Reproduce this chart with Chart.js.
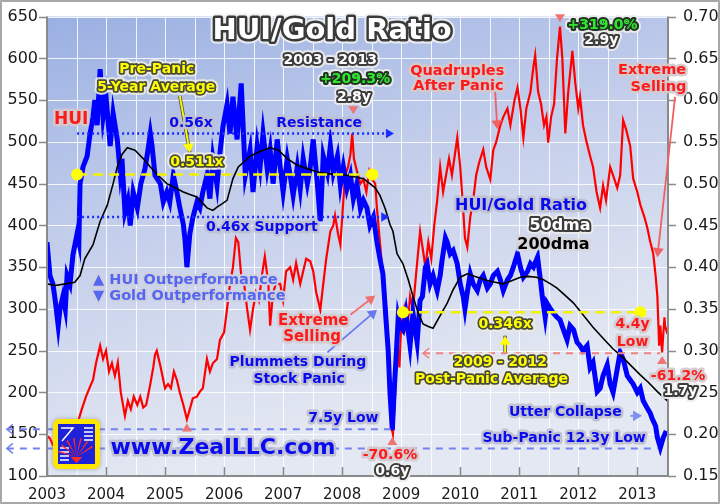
<!DOCTYPE html>
<html>
<head>
<meta charset="utf-8">
<script src="https://cdn.jsdelivr.net/npm/chart.js@4.4.0/dist/chart.umd.min.js"></script>
<style>
html, body { margin: 0; padding: 0; background: #fff; }
canvas { display: block; }
</style>
</head>
<body>
<canvas id="grafico-hui-ouro" width="720" height="504"></canvas>
<script>
// Índice HUI (eixo esquerdo)
const anosHUI = [
  2003.00, 2003.05, 2003.10, 2003.19, 2003.27, 2003.36, 2003.44, 2003.53, 2003.59, 2003.66,
  2003.73, 2003.78, 2003.83, 2003.90, 2003.95, 2004.00, 2004.05, 2004.10, 2004.15, 2004.20,
  2004.25, 2004.32, 2004.37, 2004.42, 2004.47, 2004.53, 2004.58, 2004.63, 2004.68, 2004.75,
  2004.80, 2004.83, 2004.86, 2004.92, 2004.97, 2005.00, 2005.05, 2005.10, 2005.15, 2005.20,
  2005.25, 2005.31, 2005.37, 2005.42, 2005.47, 2005.54, 2005.59, 2005.64, 2005.71, 2005.76,
  2005.81, 2005.88, 2005.93, 2006.00, 2006.05, 2006.10, 2006.15, 2006.20, 2006.24, 2006.29,
  2006.34, 2006.39, 2006.44, 2006.49, 2006.54, 2006.59, 2006.64, 2006.69, 2006.75, 2006.78,
  2006.83, 2006.88, 2006.95, 2007.00, 2007.05, 2007.12, 2007.17, 2007.22, 2007.29, 2007.34,
  2007.39, 2007.46, 2007.51, 2007.56, 2007.63, 2007.68, 2007.73, 2007.80, 2007.85, 2007.88,
  2007.93, 2007.97, 2008.02, 2008.05, 2008.10, 2008.14, 2008.17, 2008.20, 2008.25, 2008.31,
  2008.36, 2008.41, 2008.46, 2008.51, 2008.56, 2008.59, 2008.64, 2008.69, 2008.75, 2008.80,
  2008.83, 2008.86, 2008.90, 2008.93, 2008.97, 2009.00, 2009.05, 2009.10, 2009.15, 2009.20,
  2009.25, 2009.32, 2009.37, 2009.41, 2009.46, 2009.51, 2009.56, 2009.61, 2009.66, 2009.71,
  2009.76, 2009.81, 2009.86, 2009.92, 2009.95, 2010.00, 2010.05, 2010.08, 2010.12, 2010.17,
  2010.22, 2010.27, 2010.32, 2010.39, 2010.44, 2010.51, 2010.56, 2010.61, 2010.68, 2010.73,
  2010.80, 2010.85, 2010.92, 2010.97, 2011.02, 2011.07, 2011.12, 2011.19, 2011.24, 2011.27,
  2011.32, 2011.37, 2011.42, 2011.46, 2011.49, 2011.54, 2011.59, 2011.64, 2011.69, 2011.73,
  2011.78, 2011.83, 2011.90, 2011.95, 2012.00, 2012.03, 2012.08, 2012.14, 2012.20, 2012.25,
  2012.31, 2012.37, 2012.42, 2012.47, 2012.54, 2012.59, 2012.66, 2012.71, 2012.74, 2012.76, 2012.81,
  2012.88, 2012.93, 2013.00, 2013.05, 2013.12, 2013.17, 2013.22, 2013.27, 2013.31, 2013.34,
  2013.37, 2013.39, 2013.42, 2013.46, 2013.47, 2013.51
];
const valoresHUI = [
  148, 145, 137, 140, 135, 145, 155, 166, 180, 195,
  207, 215, 235, 256, 240, 250, 225, 235, 220, 236,
  200, 172, 190, 180, 195, 185, 195, 182, 185, 210,
  230, 245, 250, 232, 215, 205, 210, 205, 225, 215,
  200, 185, 168, 180, 193, 195, 201, 205, 240, 225,
  235, 240, 263, 272, 300, 330, 350, 385, 380, 340,
  330, 300, 275, 300, 320, 310, 340, 363, 330, 280,
  320, 330, 330, 310, 345, 350, 335, 355, 330, 345,
  360, 357, 345, 320, 299, 330, 360, 393, 400, 412,
  390, 377, 430, 460, 470, 485, 510, 480, 465, 450,
  455, 440, 465, 455, 450, 420, 380, 340, 300, 230,
  160, 150, 200, 260, 230, 280, 300, 270, 315, 300,
  340, 393, 370, 350, 380, 360, 400, 430, 470, 440,
  460, 480, 460, 490, 505, 470, 420, 385, 374, 410,
  430, 460, 475, 491, 470, 455, 490, 500, 520, 530,
  540, 520, 550, 565, 540, 505, 540, 560, 590, 604,
  560, 545, 520, 530, 499, 530, 545, 600, 638, 600,
  510, 560, 609, 570, 540, 554, 520, 500, 483, 470,
  440, 421, 448, 430, 470, 460, 445, 460, 500, 526, 515,
  495, 456, 440, 425, 410, 397, 380, 366, 340, 315,
  256, 280, 248, 290, 280, 270
];

// Razão HUI/Ouro (eixo direito)
const anosRazao = [
  2003.00, 2003.05, 2003.10, 2003.14, 2003.19, 2003.22, 2003.27, 2003.31, 2003.34, 2003.39,
  2003.44, 2003.51, 2003.54, 2003.56, 2003.61, 2003.68, 2003.73, 2003.78, 2003.81, 2003.85,
  2003.90, 2003.95, 2004.00, 2004.07, 2004.12, 2004.19, 2004.24, 2004.27, 2004.32, 2004.37,
  2004.41, 2004.46, 2004.53, 2004.59, 2004.66, 2004.71, 2004.75, 2004.78, 2004.83, 2004.92,
  2004.97, 2005.03, 2005.08, 2005.14, 2005.20, 2005.25, 2005.31, 2005.34, 2005.37, 2005.42,
  2005.47, 2005.54, 2005.59, 2005.64, 2005.71, 2005.76, 2005.81, 2005.88, 2005.93, 2005.98,
  2006.05, 2006.10, 2006.15, 2006.22, 2006.29, 2006.36, 2006.44, 2006.49, 2006.56, 2006.61,
  2006.66, 2006.73, 2006.78, 2006.83, 2006.90, 2006.95, 2007.00, 2007.07, 2007.12, 2007.17,
  2007.24, 2007.29, 2007.34, 2007.41, 2007.46, 2007.51, 2007.58, 2007.63, 2007.68, 2007.75,
  2007.80, 2007.85, 2007.92, 2007.97, 2008.02, 2008.08, 2008.14, 2008.19, 2008.25, 2008.31,
  2008.36, 2008.42, 2008.47, 2008.53, 2008.59, 2008.64, 2008.69, 2008.75, 2008.78, 2008.81,
  2008.85, 2008.88, 2008.92, 2008.95, 2008.98, 2009.03, 2009.08, 2009.15, 2009.20, 2009.27,
  2009.32, 2009.36, 2009.41, 2009.44, 2009.49, 2009.54, 2009.61, 2009.66, 2009.69, 2009.75,
  2009.78, 2009.83, 2009.88, 2009.95, 2010.00, 2010.05, 2010.08, 2010.12, 2010.17, 2010.22,
  2010.29, 2010.34, 2010.39, 2010.46, 2010.51, 2010.56, 2010.63, 2010.68, 2010.73, 2010.80,
  2010.85, 2010.90, 2010.97, 2011.02, 2011.07, 2011.14, 2011.19, 2011.24, 2011.31, 2011.36,
  2011.39, 2011.44, 2011.47, 2011.53, 2011.58, 2011.64, 2011.69, 2011.75, 2011.81, 2011.86,
  2011.92, 2011.98, 2012.03, 2012.08, 2012.15, 2012.20, 2012.25, 2012.32, 2012.37, 2012.42,
  2012.49, 2012.54, 2012.59, 2012.64, 2012.71, 2012.76, 2012.83, 2012.88, 2012.93, 2013.00,
  2013.05, 2013.10, 2013.17, 2013.22, 2013.25, 2013.31, 2013.34, 2013.39, 2013.44, 2013.49
];
const valoresRazao = [
  0.430, 0.390, 0.380, 0.360, 0.330, 0.350, 0.365, 0.350, 0.390, 0.380,
  0.415, 0.440, 0.430, 0.500, 0.520, 0.533, 0.560, 0.580, 0.600, 0.570,
  0.637, 0.580, 0.604, 0.545, 0.584, 0.553, 0.513, 0.530, 0.466, 0.480,
  0.450, 0.490, 0.471, 0.500, 0.518, 0.540, 0.560, 0.545, 0.510, 0.500,
  0.478, 0.490, 0.478, 0.510, 0.490, 0.471, 0.451, 0.431, 0.400, 0.440,
  0.459, 0.478, 0.471, 0.490, 0.510, 0.482, 0.530, 0.498, 0.537, 0.568,
  0.595, 0.560, 0.604, 0.553, 0.620, 0.510, 0.540, 0.490, 0.545, 0.520,
  0.560, 0.518, 0.540, 0.500, 0.553, 0.520, 0.490, 0.530, 0.510, 0.486,
  0.520, 0.494, 0.530, 0.500, 0.520, 0.553, 0.500, 0.455, 0.533, 0.513,
  0.545, 0.513, 0.533, 0.498, 0.520, 0.494, 0.510, 0.482, 0.500, 0.470,
  0.480, 0.471, 0.450, 0.460, 0.430, 0.410, 0.392, 0.330, 0.300, 0.250,
  0.205, 0.250, 0.300, 0.340, 0.330, 0.325, 0.345, 0.306, 0.345, 0.310,
  0.360, 0.365, 0.400, 0.404, 0.380, 0.390, 0.372, 0.390, 0.407, 0.435,
  0.430, 0.416, 0.420, 0.404, 0.380, 0.365, 0.350, 0.370, 0.392, 0.380,
  0.372, 0.385, 0.390, 0.375, 0.380, 0.390, 0.395, 0.385, 0.372, 0.385,
  0.390, 0.400, 0.416, 0.400, 0.388, 0.395, 0.404, 0.400, 0.412, 0.384,
  0.365, 0.340, 0.357, 0.350, 0.345, 0.340, 0.337, 0.325, 0.313, 0.330,
  0.325, 0.310, 0.306, 0.300, 0.306, 0.280, 0.286, 0.251, 0.255, 0.270,
  0.283, 0.260, 0.250, 0.270, 0.298, 0.290, 0.270, 0.265, 0.260, 0.250,
  0.255, 0.240, 0.231, 0.225, 0.219, 0.210, 0.196, 0.184, 0.196, 0.204
];

// Média móvel de 200 dias da razão (linha preta)
const anosMedia200 = [
  2003.00, 2003.14, 2003.31, 2003.47, 2003.56, 2003.64, 2003.78, 2003.90, 2004.02, 2004.12,
  2004.19, 2004.27, 2004.36, 2004.49, 2004.63, 2004.75, 2004.88, 2005.03, 2005.17, 2005.31,
  2005.42, 2005.54, 2005.71, 2005.81, 2005.88, 2005.97, 2006.05, 2006.15, 2006.24, 2006.32,
  2006.44, 2006.56, 2006.66, 2006.78, 2006.92, 2007.07, 2007.24, 2007.41, 2007.58, 2007.75,
  2007.92, 2008.08, 2008.22, 2008.36, 2008.47, 2008.56, 2008.64, 2008.73, 2008.81, 2008.86,
  2008.93, 2009.03, 2009.12, 2009.20, 2009.29, 2009.37, 2009.46, 2009.54, 2009.66, 2009.78,
  2009.88, 2010.00, 2010.12, 2010.29, 2010.46, 2010.59, 2010.73, 2010.88, 2011.02, 2011.15,
  2011.29, 2011.41, 2011.53, 2011.64, 2011.75, 2011.92, 2012.08, 2012.25, 2012.42, 2012.59,
  2012.71, 2012.88, 2013.05, 2013.19, 2013.34, 2013.51
];
const valoresMedia200 = [
  0.380, 0.378, 0.380, 0.382, 0.390, 0.410, 0.427, 0.455, 0.474, 0.500,
  0.520, 0.535, 0.543, 0.540, 0.530, 0.520, 0.510, 0.500, 0.495, 0.490,
  0.487, 0.484, 0.471, 0.468, 0.472, 0.476, 0.480, 0.506, 0.520, 0.525,
  0.533, 0.537, 0.540, 0.543, 0.540, 0.530, 0.522, 0.518, 0.514, 0.512,
  0.511, 0.510, 0.508, 0.506, 0.500, 0.495, 0.486, 0.470, 0.451, 0.443,
  0.416, 0.404, 0.385, 0.365, 0.345, 0.332, 0.329, 0.327, 0.342, 0.357,
  0.373, 0.388, 0.392, 0.388, 0.384, 0.382, 0.380, 0.384, 0.388, 0.389,
  0.388, 0.385, 0.380, 0.375, 0.368, 0.357, 0.343, 0.328, 0.315, 0.302,
  0.295, 0.283, 0.271, 0.262, 0.251, 0.240
];

// Linhas de referência (níveis da razão) e anotações
const linhasReferencia = [
  { razao: 0.56, de: 2003.51, ate: 2008.81, cor: "#1a2cff", traco: [2, 3], largura: 2.5, ponta: "dir" },
  { razao: 0.46, de: 2003.51, ate: 2008.73, cor: "#1a2cff", traco: [2, 3], largura: 2.5, ponta: "dir" },
  { razao: 0.511, de: 2003.51, ate: 2008.51, cor: "#f2f200", traco: [10, 6], largura: 2.5, ponta: "pontos" },
  { razao: 0.346, de: 2009.03, ate: 2013.05, cor: "#f2f200", traco: [10, 6], largura: 2.5, ponta: "pontos" },
  { razao: 0.206, de: 2002.32, ate: 2008.85, cor: "#7482f0", traco: [7, 6], largura: 2, ponta: "esq" },
  { razao: 0.183, de: 2002.32, ate: 2013.34, cor: "#7482f0", traco: [7, 6], largura: 2, ponta: "esq" },
  { razao: 0.297, de: 2009.37, ate: 2013.39, cor: "#f08282", traco: [7, 6], largura: 2, ponta: "esq" }
];

const textos = [
  ["HUI/Gold Ratio", 2007.83, 632, 29, "titulo"],
  ["2003 - 2013", 2007.80, 598, 14, "branco"],
  ["+209.3%", 2008.22, 575, 14, "verde"],
  ["2.8y", 2008.20, 553, 14, "branco"],
  ["Pre-Panic", 2004.86, 587, 14, "amarelo"],
  ["5-Year Average", 2004.85, 565, 14, "amarelo"],
  ["HUI", 2003.41, 527, 17, "vermelho"],
  ["0.56x", 2005.44, 522, 14, "azul"],
  ["Resistance", 2007.61, 522, 14, "azul"],
  ["0.511x", 2005.54, 475, 14, "amarelo"],
  ["0.46x Support", 2006.64, 398, 14, "azul"],
  ["HUI/Gold Ratio", 2011.03, 424, 16, "azul"],
  ["50dma", 2011.69, 400, 16, "branco"],
  ["200dma", 2011.58, 377, 16, "preto"],
  ["Quadruples", 2009.95, 585, 14.5, "vermelho"],
  ["After Panic", 2009.97, 567, 14.5, "vermelho"],
  ["+319.0%", 2012.41, 639, 14, "verde"],
  ["2.9y", 2012.39, 621, 14, "branco"],
  ["Extreme", 2013.25, 586, 14.5, "vermelho"],
  ["Selling", 2013.36, 565, 14.5, "vermelho"],
  ["Extreme", 2007.51, 286, 15, "vermelho"],
  ["Selling", 2007.49, 266, 15, "vermelho"],
  ["Plummets During", 2007.25, 236, 14, "azul"],
  ["Stock Panic", 2007.27, 216, 14, "azul"],
  ["7.5y Low", 2008.02, 169, 14, "azul"],
  ["www.ZealLLC.com", 2005.98, 133, 22, "azul"],
  ["-70.6%", 2008.81, 125, 14, "vermelho"],
  ["0.6y", 2008.85, 105, 14, "branco"],
  ["Sub-Panic 12.3y Low", 2011.76, 145, 14, "azul"],
  ["Utter Collapse", 2011.78, 176, 14, "azul"],
  ["-61.2%", 2013.69, 219, 14, "vermelho"],
  ["1.7y", 2013.73, 201, 14, "branco"],
  ["4.4y", 2012.92, 281, 14, "vermelho"],
  ["Low", 2012.92, 260, 14, "vermelho"],
  ["0.346x", 2010.76, 281, 14, "amarelo"],
  ["2009 - 2012", 2010.68, 236, 14, "amarelo"],
  ["Post-Panic Average", 2010.53, 216, 14, "amarelo"]
];
// textos alinhados à esquerda
const textosEsquerda = [
  ["▲ HUI Outperformance", 2003.78, 334, 14.5, "azulClaro"],
  ["▼ Gold Outperformance", 2003.78, 315, 14.5, "azulClaro"]
];

const setas = [
  [2005.25, 555, 2005.42, 487, "amarelo"],
  [2010.59, 562, 2010.63, 515, "#f06060"],
  [2013.64, 554, 2013.34, 362, "#f06060"],
  [2008.14, 293, 2008.56, 316, "#f07070"],
  [2007.75, 248, 2008.59, 299, "#6a78f0"],
  [2010.76, 248, 2010.76, 268, "amarelo"],
  [2012.88, 172, 2013.08, 172, "#8090f0"]
];

const marcadores = [
  [2008.19, 538, "baixo"],
  [2011.69, 648, "baixo"],
  [2005.37, 158, "cima"],
  [2008.85, 142, "cima"],
  [2013.42, 239, "cima"]
];

const estilos = {
  titulo: { cor: "#ffffff", contorno: "#3a3a3a", largura: 5, brilho: "rgba(240,240,240,0.9)" },
  branco: { cor: "#ffffff", contorno: "#3c3c3c", largura: 4, brilho: "rgba(235,235,235,0.9)" },
  verde: { cor: "#2ee82e", contorno: "#223322", largura: 4, brilho: "rgba(235,235,235,0.9)" },
  amarelo: { cor: "#ffff00", contorno: "#4a4a38", largura: 3.5, brilho: "rgba(235,235,225,0.9)" },
  azul: { cor: "#0a0af0", contorno: "rgba(190,192,208,0.95)", largura: 5 },
  azulClaro: { cor: "#5566f0", contorno: "rgba(206,208,222,0.95)", largura: 4 },
  vermelho: { cor: "#ff1a1a", contorno: "rgba(212,200,204,0.95)", largura: 5 },
  preto: { cor: "#000000", contorno: "rgba(214,214,218,0.95)", largura: 5 }
};

function escrever(ctx, txt, x, y, tamanho, estilo, alinhamento) {
  const e = estilos[estilo];
  ctx.font = "bold " + tamanho + "px 'DejaVu Sans'";
  ctx.textAlign = alinhamento || "center";
  ctx.textBaseline = "middle";
  ctx.lineJoin = "round";
  if (e.brilho) {
    ctx.lineWidth = e.largura + 4;
    ctx.strokeStyle = e.brilho;
    ctx.strokeText(txt, x, y);
  }
  ctx.lineWidth = e.largura;
  ctx.strokeStyle = e.contorno;
  ctx.strokeText(txt, x, y);
  ctx.fillStyle = e.cor;
  ctx.fillText(txt, x, y);
}

function pontaSeta(ctx, x, y, angulo, tam, cor) {
  ctx.save();
  ctx.translate(x, y);
  ctx.rotate(angulo);
  ctx.fillStyle = cor;
  ctx.beginPath();
  ctx.moveTo(0, 0);
  ctx.lineTo(-tam, -tam * 0.6);
  ctx.lineTo(-tam, tam * 0.6);
  ctx.closePath();
  ctx.fill();
  ctx.restore();
}

function chevron(ctx, x, y, direcao, cor) {
  ctx.save();
  ctx.strokeStyle = cor;
  ctx.lineWidth = 1.5;
  ctx.setLineDash([]);
  ctx.beginPath();
  ctx.moveTo(x + 6 * direcao, y - 5);
  ctx.lineTo(x, y);
  ctx.lineTo(x + 6 * direcao, y + 5);
  ctx.stroke();
  ctx.restore();
}

function desenharLogo(ctx, x, y, w, h) {
  ctx.save();
  ctx.shadowColor = "rgba(120,120,120,0.6)";
  ctx.shadowBlur = 4;
  ctx.fillStyle = "#ffe600";
  ctx.beginPath();
  ctx.roundRect(x, y, w, h, 6);
  ctx.fill();
  ctx.shadowBlur = 0;
  ctx.fillStyle = "#1e22d8";
  ctx.fillRect(x + 5, y + 5, w - 10, h - 10);
  // faixas brancas do "Z"
  ctx.strokeStyle = "#ffffff";
  ctx.lineWidth = 1.5;
  for (let i = 0; i < 4; i++) {
    ctx.beginPath();
    ctx.moveTo(x + w - 16, y + 9 + i * 4);
    ctx.lineTo(x + w - 7, y + 9 + i * 4);
    ctx.moveTo(x + 7, y + h - 9 - i * 4);
    ctx.lineTo(x + 16, y + h - 9 - i * 4);
    ctx.stroke();
  }
  ctx.beginPath();
  ctx.moveTo(x + 8, y + 9);
  ctx.lineTo(x + 20, y + 9);
  ctx.lineTo(x + 9, y + 22);
  ctx.stroke();
  // leque vermelho
  const cx = x + w / 2, cy = y + h - 12;
  for (let i = 0; i < 7; i++) {
    const a1 = Math.PI * (1.08 + i * 0.12), a2 = a1 + 0.09;
    ctx.fillStyle = "#ff2a2a";
    ctx.beginPath();
    ctx.moveTo(cx, cy);
    ctx.arc(cx, cy, 19, a1, a2);
    ctx.closePath();
    ctx.fill();
  }
  ctx.fillStyle = "#ff2a2a";
  ctx.beginPath();
  ctx.moveTo(cx - 6, cy);
  ctx.lineTo(cx + 6, cy);
  ctx.lineTo(cx, cy + 6);
  ctx.closePath();
  ctx.fill();
  ctx.restore();
}

const pluginFundo = {
  id: "fundo",
  beforeDraw(chart) {
    const { ctx, chartArea: a, scales } = chart;
    ctx.save();
    ctx.fillStyle = "#ffffff";
    ctx.fillRect(0, 0, chart.width, chart.height);
    const g = ctx.createLinearGradient(a.left, a.top, a.left + 120, a.bottom);
    g.addColorStop(0, "#9ab0e2");
    g.addColorStop(0.45, "#c2cdeb");
    g.addColorStop(1, "#e4e8f2");
    ctx.fillStyle = g;
    ctx.fillRect(a.left, a.top, a.right - a.left, a.bottom - a.top);
    // grade branca
    ctx.strokeStyle = "rgba(255,255,255,0.85)";
    ctx.lineWidth = 1;
    for (const t of scales.y.ticks) {
      const y = Math.round(scales.y.getPixelForValue(t.value)) + 0.5;
      ctx.beginPath(); ctx.moveTo(a.left, y); ctx.lineTo(a.right, y); ctx.stroke();
    }
    for (let ano = 2003.5; ano < scales.x.max; ano += 0.5) {
      const x = Math.round(scales.x.getPixelForValue(ano)) + 0.5;
      ctx.beginPath(); ctx.moveTo(x, a.top); ctx.lineTo(x, a.bottom); ctx.stroke();
    }
    ctx.restore();
  },
  afterDatasetsDraw(chart) {
    const { ctx, scales } = chart;
    const X = v => scales.x.getPixelForValue(v);
    const R = v => scales.y1.getPixelForValue(v);
    ctx.save();
    for (const L of linhasReferencia) {
      const y = R(L.razao), x1 = X(L.de), x2 = X(L.ate);
      ctx.strokeStyle = L.cor;
      ctx.lineWidth = L.largura;
      ctx.setLineDash(L.traco);
      ctx.beginPath(); ctx.moveTo(x1, y); ctx.lineTo(x2, y); ctx.stroke();
      ctx.setLineDash([]);
      if (L.ponta === "dir") pontaSeta(ctx, x2 + 4, y, 0, 8, L.cor);
      if (L.ponta === "esq") chevron(ctx, x1, y, 1, L.cor);
      if (L.ponta === "pontos") {
        ctx.fillStyle = "#ffff00";
        for (const x of [x1, x2]) {
          ctx.beginPath(); ctx.arc(x, y, 6, 0, Math.PI * 2); ctx.fill();
        }
      }
    }
    ctx.restore();
  },
  afterDraw(chart) {
    const { ctx, chartArea: a, scales } = chart;
    const X = v => scales.x.getPixelForValue(v);
    const Y = v => scales.y.getPixelForValue(v);
    ctx.save();
    // eixos e marcas
    ctx.strokeStyle = "#8a8a8a";
    ctx.lineWidth = 2;
    ctx.beginPath();
    ctx.moveTo(a.left, a.top); ctx.lineTo(a.left, a.bottom); ctx.lineTo(a.right, a.bottom); ctx.lineTo(a.right, a.top);
    ctx.stroke();
    ctx.lineWidth = 1.5;
    for (const t of scales.y.ticks) {
      const y = Math.round(Y(t.value)) + 0.5;
      ctx.beginPath(); ctx.moveTo(a.left - 8, y); ctx.lineTo(a.left, y);
      ctx.moveTo(a.right, y); ctx.lineTo(a.right + 8, y); ctx.stroke();
    }
    for (const t of scales.x.ticks) {
      const x = Math.round(X(t.value)) + 0.5;
      ctx.beginPath(); ctx.moveTo(x, a.bottom - 9); ctx.lineTo(x, a.bottom); ctx.stroke();
    }

    desenharLogo(ctx, a.left + 6, a.bottom - 57, 47, 50);

    // setas
    for (const [x1a, y1v, x2a, y2v, cor] of setas) {
      const x1 = X(x1a), y1 = Y(y1v), x2 = X(x2a), y2 = Y(y2v);
      const ang = Math.atan2(y2 - y1, x2 - x1);
      const c = cor === "amarelo" ? "#ffff00" : cor;
      if (cor === "amarelo") {
        ctx.strokeStyle = "#5a5a40"; ctx.lineWidth = 3.5;
        ctx.beginPath(); ctx.moveTo(x1, y1); ctx.lineTo(x2, y2); ctx.stroke();
      }
      ctx.strokeStyle = c; ctx.lineWidth = 1.8;
      ctx.beginPath(); ctx.moveTo(x1, y1); ctx.lineTo(x2 - 6 * Math.cos(ang), y2 - 6 * Math.sin(ang)); ctx.stroke();
      pontaSeta(ctx, x2, y2, ang, 9, c);
    }

    // marcadores triangulares
    ctx.fillStyle = "#f07474";
    for (const [ano, v, dir] of marcadores) {
      const x = X(ano), y = Y(v), s = dir === "cima" ? -1 : 1;
      ctx.beginPath();
      ctx.moveTo(x, y + 4 * s); ctx.lineTo(x - 5, y - 4 * s); ctx.lineTo(x + 5, y - 4 * s);
      ctx.closePath(); ctx.fill();
    }

    for (const [txt, ano, v, tam, est] of textos) escrever(ctx, txt, X(ano), Y(v), tam, est);
    for (const [txt, ano, v, tam, est] of textosEsquerda) escrever(ctx, txt, X(ano), Y(v), tam, est, "left");

    // moldura
    ctx.strokeStyle = "#a8a8a8";
    ctx.lineWidth = 2;
    ctx.strokeRect(1, 1, chart.width - 2, chart.height - 2);
    ctx.restore();
  }
};

const pares = (xs, ys) => xs.map((x, i) => ({ x: x, y: ys[i] }));
const fonteEixo = { family: "'DejaVu Sans'", size: 16 };

new Chart(document.getElementById("grafico-hui-ouro"), {
  type: "line",
  data: {
    datasets: [
      { label: "200dma", data: pares(anosMedia200, valoresMedia200), yAxisID: "y1", borderColor: "#000000", borderWidth: 1.6 },
      { label: "HUI/Gold Ratio", data: pares(anosRazao, valoresRazao), yAxisID: "y1", borderColor: "#0000ff", borderWidth: 5 },
      { label: "HUI", data: pares(anosHUI, valoresHUI), yAxisID: "y", borderColor: "#ff0000", borderWidth: 2.2 }
    ]
  },
  options: {
    responsive: false,
    animation: false,
    layout: { padding: { top: 8 } },
    elements: { point: { radius: 0 }, line: { tension: 0 } },
    plugins: { legend: { display: false }, tooltip: { enabled: false } },
    scales: {
      x: {
        type: "linear", min: 2003, max: 2013.52,
        border: { display: false },
        grid: { display: false, tickLength: 8 },
        ticks: {
          stepSize: 1, includeBounds: false, autoSkip: false, maxRotation: 0, padding: 2,
          color: "#1a1a1a", font: { family: "'DejaVu Sans'", size: 15 },
          callback: v => Number.isInteger(v) ? String(v) : ""
        },
        afterFit: s => { s.height = 28; }
      },
      y: {
        position: "left", min: 100, max: 650,
        border: { display: false },
        grid: { display: false, tickLength: 8 },
        ticks: { stepSize: 50, padding: 1, color: "#1a1a1a", font: fonteEixo },
        afterFit: s => { s.width = 47; }
      },
      y1: {
        position: "right", min: 0.15, max: 0.70,
        border: { display: false },
        grid: { display: false, tickLength: 8 },
        ticks: { stepSize: 0.05, padding: 7, color: "#1a1a1a", font: fonteEixo, callback: v => Number(v).toFixed(2) },
        afterFit: s => { s.width = 52; }
      }
    }
  },
  plugins: [pluginFundo]
});
</script>
</body>
</html>
